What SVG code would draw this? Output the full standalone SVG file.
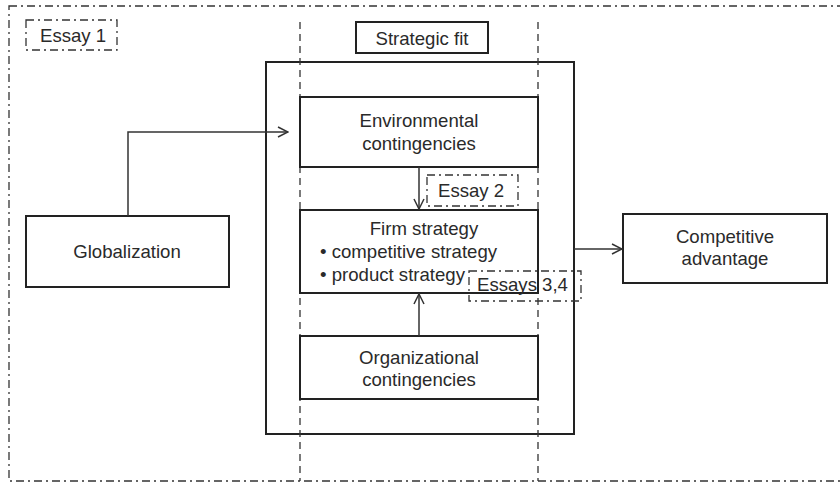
<svg xmlns="http://www.w3.org/2000/svg" width="840" height="483" viewBox="0 0 840 483">
  <defs>
    <style>
      text { font-family: "Liberation Sans", Arial, sans-serif; font-size: 18.6px; fill: #2a2a2a; }
      .mid { text-anchor: middle; }
      .box { fill: #fff; stroke: #222; stroke-width: 2; }
      .frame { fill: none; stroke: #222; stroke-width: 2; }
      .dashdot { fill: none; stroke: #333; stroke-width: 1.3; stroke-dasharray: 8 4 2 4; }
      .dashed { fill: none; stroke: #333; stroke-width: 1.3; stroke-dasharray: 7 5; }
      .conn { fill: none; stroke: #333; stroke-width: 1.5; }
    </style>
    <marker id="arrow" viewBox="0 0 12 12" refX="11" refY="6" markerWidth="12" markerHeight="12" markerUnits="userSpaceOnUse" orient="auto">
      <path d="M1,1 L11,6 L1,11" fill="none" stroke="#333" stroke-width="1.5"/>
    </marker>
  </defs>

  <!-- outer scope border -->
  <rect class="dashdot" x="9" y="6" width="850" height="475"/>

  <!-- strategic fit band -->
  <g id="fit-band">
    <rect class="frame" x="266" y="62" width="308" height="372"/>
    <line class="dashed" x1="300" y1="22" x2="300" y2="481"/>
    <line class="dashed" x1="538" y1="22" x2="538" y2="481"/>
  </g>

  <g id="essay1">
    <rect class="dashdot" x="26" y="20" width="91" height="30"/>
    <text x="40" y="42">Essay 1</text>
  </g>

  <g id="strategic-fit">
    <rect class="box" x="356" y="22" width="132" height="31"/>
    <text class="mid" x="422" y="45">Strategic fit</text>
  </g>

  <g id="globalization">
    <rect class="box" x="26" y="216" width="203" height="71"/>
    <text class="mid" x="127" y="258">Globalization</text>
  </g>

  <g id="environmental">
    <rect class="box" x="300" y="97" width="238" height="70"/>
    <text class="mid" x="419" y="127">Environmental</text>
    <text class="mid" x="419" y="150">contingencies</text>
  </g>

  <g id="firm-strategy">
    <rect class="box" x="300" y="210" width="238" height="83"/>
    <text class="mid" x="424" y="235">Firm strategy</text>
    <text x="320" y="258">• competitive strategy</text>
    <text x="320" y="281">• product strategy</text>
  </g>

  <g id="organizational">
    <rect class="box" x="300" y="336" width="238" height="63"/>
    <text class="mid" x="419" y="364">Organizational</text>
    <text class="mid" x="419" y="386">contingencies</text>
  </g>

  <g id="competitive-advantage">
    <rect class="box" x="623" y="214" width="204" height="69"/>
    <text class="mid" x="725" y="243">Competitive</text>
    <text class="mid" x="725" y="265">advantage</text>
  </g>

  <g id="essay2">
    <rect class="dashdot" x="427" y="175" width="91" height="31"/>
    <text x="438" y="197">Essay 2</text>
  </g>

  <g id="essays34">
    <rect class="dashdot" x="469" y="271" width="112" height="30"/>
    <text x="477" y="291">Essays 3,4</text>
  </g>

  <!-- connectors -->
  <g id="connectors">
    <path class="conn" d="M128,216 V132 H288" marker-end="url(#arrow)"/>
    <line class="conn" x1="419" y1="167" x2="419" y2="209" marker-end="url(#arrow)"/>
    <line class="conn" x1="419" y1="336" x2="419" y2="294" marker-end="url(#arrow)"/>
    <line class="conn" x1="574" y1="249" x2="622" y2="249" marker-end="url(#arrow)"/>
  </g>
</svg>
